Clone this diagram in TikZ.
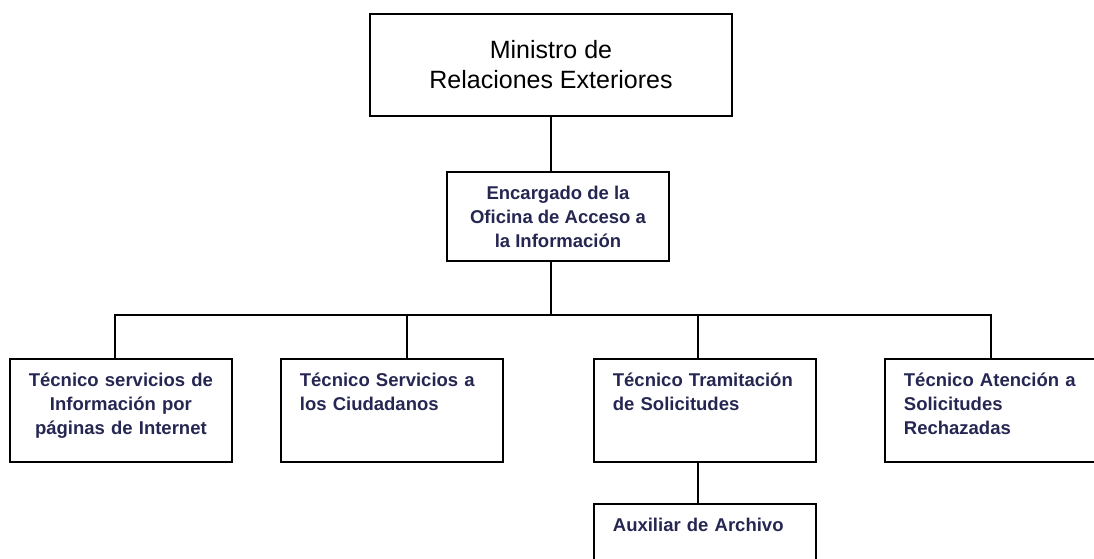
\documentclass[tikz,border=0pt]{standalone}
\usepackage{fontspec}
\setmainfont{Liberation Sans}
\definecolor{staffblue}{HTML}{262652}

\begin{document}
\begin{tikzpicture}[x=1pt, y=-1pt,
	every node/.style={font=\fontsize{18.5}{24}\selectfont\bfseries, text=staffblue},
	box/.style={draw=black, line width=1.8pt, inner sep=0pt},
	post/.style={box, anchor=north west, inner xsep=19pt, text width=184pt, text height=27.5pt, text depth=75.5pt, align=left},
	link/.style={line width=1.8pt}]
	\useasboundingbox (0,0) rectangle (1094,559);
	\clip (0,0) rectangle (1094,559);
	\node (min) [box, minimum width=362pt, minimum height=102pt, align=center, text=black, font=\fontsize{25}{30}\selectfont] at (551,65) {Ministro de\\Relaciones Exteriores};
	\node (enc) [box, minimum width=222pt, minimum height=89pt, align=center] at (558,216.5) {Encargado de la\\Oficina de Acceso a\\la Información};
	\node (t1) [post, align=center, inner xsep=6pt, text width=210pt] at (9,358) {Técnico servicios de\\Información por\\páginas de Internet};
	\node (t2) [post] at (280,358) {Técnico Servicios a\\los Ciudadanos};
	\node (t3) [post] at (593,358) {Técnico Tramitación\\de Solicitudes};
	\node (t4) [post] at (884,358) {Técnico Atención a\\Solicitudes\\Rechazadas};
	\node (aux) [post] at (593,503) {Auxiliar de Archivo};
	\draw[link] (min.south) -- ([xshift=-7pt]enc.north);
	\foreach \n/\dx in {t1/-6, t2/15, t3/-7, t4/-5}
		\draw[link] ([xshift=-7pt]enc.south) -- ++(0,53) -| ([xshift=\dx pt]\n.north);
	\draw[link] ([xshift=-7pt]t3.south) -- ([xshift=-7pt]aux.north);
\end{tikzpicture}
\end{document}
